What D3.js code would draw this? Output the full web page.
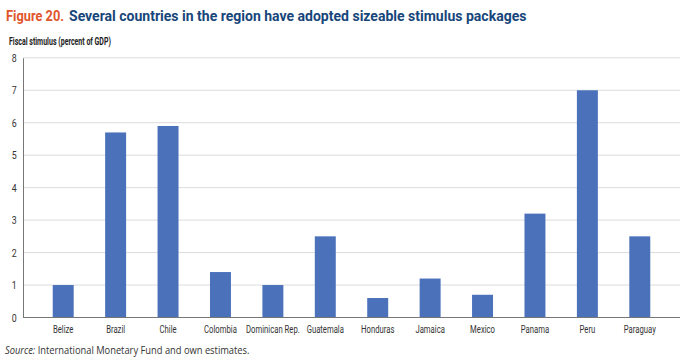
<!DOCTYPE html>
<html>
<head>
<meta charset="utf-8">
<script src="https://cdn.jsdelivr.net/npm/d3@7"></script>
<style>
  body { margin: 0; background: #fff; }
  text { font-family: "Roboto", "Liberation Sans", sans-serif; }
</style>
</head>
<body>
<div id="chart"></div>
<script>
// data
var countries = ["Belize", "Brazil", "Chile", "Colombia", "Dominican Rep.", "Guatemala",
  "Honduras", "Jamaica", "Mexico", "Panama", "Peru", "Paraguay"];
var stimulus = [1.0, 5.7, 5.9, 1.4, 1.0, 2.5, 0.6, 1.2, 0.7, 3.2, 7.0, 2.5];
var yTicks = [0, 1, 2, 3, 4, 5, 6, 7, 8];

var svgWidth = 680, svgHeight = 361;

var svg = d3.select("#chart")
  .append("svg")
  .attr("width", svgWidth)
  .attr("height", svgHeight);

// squeeze a text horizontally to a given width (the original uses a condensed face)
function fitText(sel, x0, y0, w) {
  var len = sel.node().getComputedTextLength();
  sel.attr("transform", "translate(" + x0 + "," + y0 + ") scale(" + (w / len) + ",1)");
}

// titles
fitText(svg.append("text")
  .attr("font-size", 15.5)
  .attr("font-weight", "bold")
  .attr("fill", "#e1552b")
  .text("Figure 20."), 6, 21, 58);
fitText(svg.append("text")
  .attr("font-size", 15.5)
  .attr("font-weight", "bold")
  .attr("fill", "#17467a")
  .text("Several countries in the region have adopted sizeable stimulus packages"), 69, 21, 458);

fitText(svg.append("text")
  .attr("font-size", 11.5)
  .attr("font-weight", "bold")
  .attr("fill", "#222")
  .text("Fiscal stimulus (percent of GDP)"), 9, 44.5, 102);

var axisX = 23;
var x = d3.scaleBand()
  .domain(countries)
  .range([37, 666])
  .paddingInner(0.6)
  .paddingOuter(0.3);

var y = d3.scaleLinear()
  .domain([0, 8])
  .range([317.5, 57.8]);

// gridlines
svg.append("g")
  .selectAll("line")
  .data(yTicks.slice(1))
  .enter()
  .append("line")
  .attr("x1", axisX)
  .attr("x2", 680)
  .attr("y1", function(d) { return y(d); })
  .attr("y2", function(d) { return y(d); })
  .attr("stroke", "#dcdcdc")
  .attr("stroke-width", 1);

// bars
svg.append("g")
  .selectAll("rect")
  .data(countries)
  .enter()
  .append("rect")
  .attr("x", function(d) { return x(d); })
  .attr("y", function(d, i) { return y(stimulus[i]); })
  .attr("width", x.bandwidth())
  .attr("height", function(d, i) { return y(0) - y(stimulus[i]); })
  .attr("fill", "#4a71ba");

// y axis
var leftAxis = d3.axisLeft(y).tickValues(yTicks).tickSize(0).tickPadding(8);
var gy = svg.append("g")
  .attr("transform", "translate(" + axisX + ",0)")
  .call(leftAxis);
gy.select(".domain").attr("stroke", "#777");
gy.selectAll("text").attr("font-size", 11).attr("fill", "#333")
  .style("font-family", "Roboto, sans-serif")
  .attr("transform", "scale(0.8,1)");

// x axis
var bottomAxis = d3.axisBottom(x).tickSize(0).tickPadding(8);
var gx = svg.append("g")
  .attr("transform", "translate(0," + y(0) + ")")
  .call(bottomAxis);
gx.select(".domain").remove();
gx.selectAll("text").attr("font-size", 11).attr("fill", "#333")
  .style("font-family", "Roboto, sans-serif")
  .attr("transform", "scale(0.7,1)");
svg.append("line")
  .attr("x1", axisX).attr("x2", 680)
  .attr("y1", y(0)).attr("y2", y(0))
  .attr("stroke", "#777");

// source
var src = svg.append("text")
  .attr("font-size", 10)
  .attr("fill", "#333")
  .style("font-family", "'Open Sans', sans-serif");
src.append("tspan").attr("font-style", "italic").text("Source:");
src.append("tspan").text(" International Monetary Fund and own estimates.");
fitText(src, 5, 354, 245);
</script>
</body>
</html>
